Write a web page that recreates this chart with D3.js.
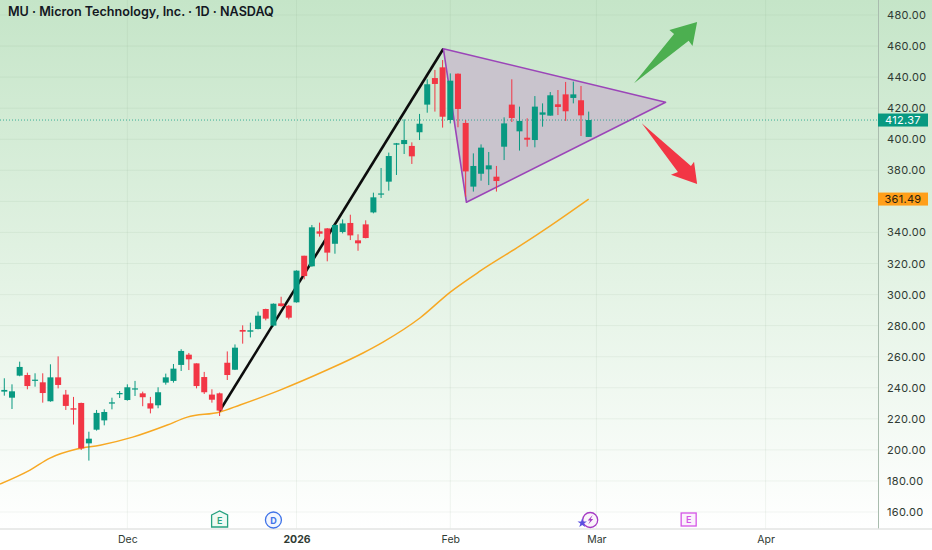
<!DOCTYPE html>
<html><head><meta charset="utf-8">
<script src="https://cdn.jsdelivr.net/npm/d3@7/dist/d3.min.js"></script>
<style>
html,body{margin:0;padding:0;background:#fff;overflow:hidden}
svg{display:block}
text{font-family:Inter,"Open Sans",sans-serif}
</style></head><body><svg id="c" width="932" height="550"></svg>
<script>
const titleText = "MU · Micron Technology, Inc. · 1D · NASDAQ";
const open  = [237.5,233.6,247.8,248.2,244.6,243.5,231.3,246.7,235.6,226.8,230.2,204.2,213,219,229.8,235.8,232.1,239,236.4,230,228.7,243.3,244.4,254.7,261.3,255.7,246.9,235.6,236.4,256.1,251.6,277.2,276.1,277.8,290.7,280,294.3,292.8,295,325,318.2,340.7,342.6,332.7,340.3,346.1,334.9,345.2,352.9,364.5,372.7,396.5,396.9,395.7,404.5,422.3,439.4,446.3,412.4,442.2,410.5,369.5,377.8,380.6,375.9,395.2,422.3,405.1,401,399.5,415.8,415.2,422.5,428.9,426.6,425.1,401.5];
const high  = [246.1,242.2,256.8,249.7,249.3,249.3,255.1,260.2,238.6,234.1,230.4,211.7,225.7,226.1,233.6,237.9,242.2,244.4,237.5,234.1,240.3,249.1,255.3,264.8,262.4,255.7,250.2,239,236.9,263.4,267.9,280.2,281.9,289,290.9,294.3,298.6,293.3,315.6,325,344.8,346.3,342.8,345.2,348.4,351.4,338.8,347.8,365.6,381.5,391.4,397.6,412.8,398,416.3,438.6,444.6,451,442.4,442.4,412.4,390.9,396.7,391.8,382.8,414.1,438.6,421,413.5,427.8,423.1,430.4,431.7,436.9,437.1,434.3,417.8];
const low   = [234.9,226.3,247.4,239,240.7,230.4,231,239.6,225.7,216.3,199.9,193.1,212.4,215.8,226.1,233.4,231.7,234.7,228.1,223.5,226.8,242,243.3,250.8,251.4,239.6,236,230.4,221.8,245,251.4,268.4,272.4,277.6,283.4,279.3,292.2,284,294.8,309.8,317.9,337.3,321.4,326.3,339.4,335.1,328.2,336.2,352.3,362.2,366.9,377,390.5,384.1,399.5,417.1,417.8,407.5,410.2,407.7,363,366.3,373.3,370.5,366.3,386.6,411.1,392.7,395.2,394.8,408.1,415.2,415.6,411.8,423.1,402.1,401.5];
const close = [238.6,237.7,253.4,241.1,245.2,236.6,246.7,241.8,228.3,225.9,201,207.2,223.8,224.4,230.6,236.6,240.3,239.6,233.9,226.6,237.1,246.7,252.3,263.7,258.3,241.1,237.1,232.3,225.3,248.2,265.8,276.1,277,286.4,284.5,294.1,292.6,285.1,315.4,311.9,343.3,339.2,327,344.8,345.8,338.1,333,336.4,362.6,365.1,389.2,397.4,399.5,389,410,435.4,435.6,414.5,437.7,419.5,379.3,382.8,394.6,383.2,373.1,410.2,413.7,411.8,399.7,421,417.3,428.3,420.8,418,428.9,415.4,412.37];

const maBars   = [-0.56,3.34,5.94,9.45,12.45,16.7,21.2,23.8,28.05,30.65,35.85,41.95,46.65,49.25,54.05,58,61.9,67.05,70.95,76];
const maValues = [178,187,194.7,200.5,203,208.2,216,221.1,224.4,228.9,238.5,251.4,262.4,269.4,284.9,301.6,315.2,331.3,344.1,361.49];

const lastPrice = 412.37;
const maPrice = 361.49;
const priceTicks = [480,460,440,420,400,380,360,340,320,300,280,260,240,220,200,180,160];
const timeTickBars = [16,38,58,77,99];
const timeTickLabels = ["Dec","2026","Feb","Mar","Apr"];

const legLine  = [[28,225],[57.1,458.3]];
const triangle = [[57.1,458.3],[60.1,359.4],[86,423.8]];
const upArrow  = [[81.9,436],[87.1,467.8],[86.5,470.3],[90.1,475.5],[89.5,460],[89,463.5]];
const downArrow= [[82.9,410.3],[89.3,382.8],[89.7,385.5],[90.1,371.2],[86.7,377.2],[87.6,378.9]];
const eventBars = [28,35,76,89];

const svg = d3.select("#c");
const x = d3.scaleLinear().domain([0,76]).range([4.3,588.7]);
const y = d3.scaleLinear().domain([480,160]).range([15,512]);
const W = 878, H = 529;

const defs = svg.append("defs");
const g = defs.append("linearGradient").attr("id","bg").attr("x1",0).attr("y1",0).attr("x2",0).attr("y2",1);
g.append("stop").attr("offset",0).attr("stop-color","#c5e5c8");
g.append("stop").attr("offset",0.5).attr("stop-color","#e2f2e3");
g.append("stop").attr("offset",1).attr("stop-color","#ffffff");
defs.append("clipPath").attr("id","plot").append("rect").attr("width",W).attr("height",H);

svg.append("rect").attr("width",932).attr("height",550).attr("fill","#fff");
svg.append("rect").attr("width",932).attr("height",H).attr("fill","url(#bg)");

const grid = svg.append("g").attr("stroke","#6b8f71").attr("stroke-opacity",0.09);
priceTicks.forEach(p=>grid.append("line").attr("x1",0).attr("x2",W).attr("y1",y(p)).attr("y2",y(p)));
timeTickBars.forEach(b=>grid.append("line").attr("x1",x(b)).attr("x2",x(b)).attr("y1",0).attr("y2",H));

const plot = svg.append("g").attr("clip-path","url(#plot)");
const pt = d=>[x(d[0]),y(d[1])];

plot.append("path").attr("d",d3.line().curve(d3.curveMonotoneX).x((d,i)=>x(maBars[i])).y(d=>y(d))(maValues))
  .attr("fill","none").attr("stroke","#f7a823").attr("stroke-width",1.5);
plot.append("path").attr("d",d3.line()(legLine.map(pt))).attr("stroke","#0c0c0c").attr("stroke-width",2.6).attr("fill","none");
plot.append("path").attr("d",d3.line()(triangle.map(pt))+"Z").attr("fill","#c9c4cd").attr("stroke","#9b45b8").attr("stroke-width",1.6).attr("stroke-linejoin","round");

plot.append("line").attr("x1",0).attr("x2",W).attr("y1",y(lastPrice)).attr("y2",y(lastPrice))
  .attr("stroke","#089981").attr("stroke-opacity",0.75).attr("stroke-dasharray","1 2");

const colour = i=>close[i]>=open[i]?"#089981":"#f23645";
const idx = d3.range(open.length);
plot.selectAll(".w").data(idx).join("line").attr("x1",i=>x(i)).attr("x2",i=>x(i))
  .attr("y1",i=>y(high[i])).attr("y2",i=>y(low[i])).attr("stroke",colour).attr("stroke-width",1);
plot.selectAll(".b").data(idx).join("rect").attr("x",i=>x(i)-3).attr("width",6)
  .attr("y",i=>y(Math.max(open[i],close[i])))
  .attr("height",i=>Math.max(1.2,Math.abs(y(open[i])-y(close[i])))).attr("fill",colour);

plot.append("path").attr("d",d3.line()(upArrow.map(pt))+"Z").attr("fill","#4caf50");
plot.append("path").attr("d",d3.line()(downArrow.map(pt))+"Z").attr("fill","#f23645");

svg.append("text").attr("x",8).attr("y",15.5).attr("font-size",12.6).attr("font-weight",600).attr("fill","#131722").text(titleText);

// axes
const ya = svg.append("g").attr("transform",`translate(${W},0)`)
  .call(d3.axisRight(y).tickValues(priceTicks).tickSize(0).tickPadding(9).tickFormat(d3.format(".2f")));
ya.select(".domain").remove();
ya.selectAll("text").attr("font-size",11).attr("fill","#2f3a33").style("font-family","Inter,sans-serif").style("letter-spacing","0.3px");
svg.append("line").attr("x1",W+.5).attr("x2",W+.5).attr("y1",0).attr("y2",H).attr("stroke","#a9bcae");

const xa = svg.append("g").attr("transform",`translate(0,${H})`)
  .call(d3.axisBottom(x).tickValues(timeTickBars).tickSize(0).tickPadding(7).tickFormat((d,i)=>timeTickLabels[i]));
xa.select(".domain").remove();
xa.selectAll("text").attr("font-size",10.5).attr("fill","#2f3a33").style("font-family","Inter,sans-serif")
  .attr("font-weight",(d,i)=>timeTickLabels[i]==="2026"?700:400);
svg.append("line").attr("x1",0).attr("x2",932).attr("y1",H).attr("y2",H).attr("stroke","#e3e5e3").attr("stroke-width",1.6);

// price tags
function tag(price,fill,tc){
  const yp=y(price);
  svg.append("rect").attr("x",W).attr("y",yp-6.5).attr("width",50).attr("height",13).attr("fill",fill);
  svg.append("text").attr("x",W+25).attr("y",yp+4).attr("text-anchor","middle").attr("font-size",11).attr("fill",tc).style("letter-spacing","0.3px").text(d3.format(".2f")(price));
}
tag(lastPrice,"#089981","#fff");
tag(maPrice,"#ff9f1a","#26210f");

// event markers
const my = 520;
const m = svg.append("g");
const ex = x(eventBars[0]);
m.append("path").attr("d",`M${ex-8},${my-5}L${ex},${my-9}L${ex+8},${my-5}V${my+7}H${ex-8}Z`).attr("fill","#effaf3").attr("stroke","#26a17f").attr("stroke-width",1.3);
m.append("text").attr("x",ex).attr("y",my+3.8).attr("text-anchor","middle").attr("font-size",9).attr("font-weight",600).attr("fill","#26a17f").text("E");
const dx = x(eventBars[1]);
m.append("circle").attr("cx",dx).attr("cy",my).attr("r",8).attr("fill","#f2f6fe").attr("stroke","#3f73e8").attr("stroke-width",1.3);
m.append("text").attr("x",dx).attr("y",my+3.6).attr("text-anchor","middle").attr("font-size",9).attr("font-weight",700).attr("fill","#3f73e8").text("D");
const sx = x(eventBars[2])+1.5;
m.append("circle").attr("cx",sx).attr("cy",my).attr("r",7.5).attr("fill","#faf4fb").attr("stroke","#a63cc4").attr("stroke-width",1.3);
m.append("path").attr("d",`M${sx+2.5},${my-5}L${sx-2.5},${my+.5}H${sx}L${sx-2},${my+4.5}L${sx+3},${my-1}H${sx+.5}Z`).attr("fill","#a63cc4");
m.append("path").attr("d",d3.symbol().type(d3.symbolStar).size(28)()).attr("transform",`translate(${sx-8},${my+3})`).attr("fill","#5b4fe0");
const px = x(eventBars[3]);
m.append("rect").attr("x",px-7.5).attr("y",my-7).attr("width",15).attr("height",13).attr("fill","#fbf1fc").attr("stroke","#d455e6").attr("stroke-width",1.3);
m.append("text").attr("x",px).attr("y",my+3.2).attr("text-anchor","middle").attr("font-size",9).attr("font-weight",600).attr("fill","#d455e6").text("E");
</script></body></html>
